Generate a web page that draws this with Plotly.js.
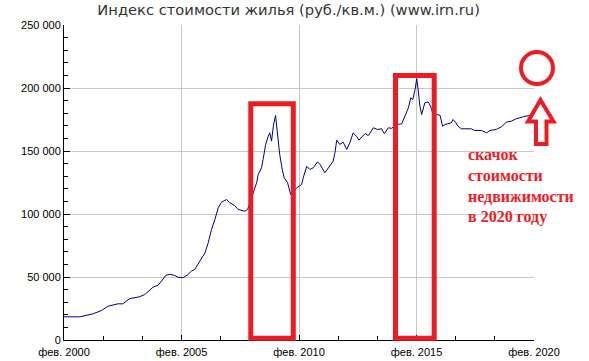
<!DOCTYPE html>
<html>
<head>
<meta charset="utf-8">
<script src="https://cdn.plot.ly/plotly-3.0.1.min.js"></script>
<style>html,body{margin:0;padding:0;background:#fff;}#chart{width:589px;height:361px;}</style>
</head>
<body>
<div id="chart"></div>
<script>
const dates = [
"2000-02-01","2000-10-01","2001-04-28","2001-09-06","2001-12-15","2002-05-19","2002-08-04","2002-11-19",
"2003-04-22","2003-07-10","2003-11-16","2004-02-01","2004-03-25","2004-06-04","2004-08-04","2004-10-19",
"2004-12-10","2005-02-28","2005-05-13","2005-07-04","2005-08-25","2005-11-10","2006-02-01","2006-03-22",
"2006-05-13","2006-07-04","2006-08-25","2006-10-16","2007-01-01","2007-02-22","2007-05-07","2007-07-01",
"2007-10-13","2007-11-25","2008-02-22","2008-04-13","2008-05-07","2008-06-28","2008-07-22","2008-09-01",
"2008-10-10","2008-11-04","2008-12-01","2008-12-28","2009-02-01","2009-03-04","2009-04-07","2009-05-16",
"2009-06-16","2009-08-07","2009-09-25","2009-12-25","2010-03-13","2010-04-07","2010-06-01","2010-07-19",
"2010-09-10","2010-11-16","2010-12-25","2011-03-10","2011-05-28","2011-07-16","2011-08-13","2011-09-10",
"2011-10-28","2011-12-19","2012-02-13","2012-04-01","2012-05-22","2012-07-13","2012-08-19","2012-10-04",
"2012-11-25","2013-01-13","2013-04-01","2013-06-07","2013-08-07","2013-09-19","2013-11-19","2014-01-10",
"2014-04-01","2014-06-16","2014-08-07","2014-09-28","2014-11-04","2014-12-04","2015-01-10","2015-02-04",
"2015-03-01","2015-03-25","2015-04-22","2015-05-16","2015-06-10","2015-08-01","2015-09-07","2015-10-19",
"2015-12-10","2016-02-01","2016-03-13","2016-04-19","2016-07-28","2016-08-22","2016-09-28","2016-11-07",
"2016-12-28","2017-06-01","2017-07-22","2017-11-07","2018-01-25","2018-03-16","2018-06-25","2018-09-13",
"2018-11-28","2019-02-16","2019-05-01","2019-06-25","2019-09-13","2020-01-20"
];
const prices = [
18400,18400,20800,23400,26800,28700,28700,32900,
34300,36100,41900,43500,46700,51400,52200,51200,
49700,49600,52000,54600,56000,62500,69200,77100,
87700,95600,104900,109400,111500,108900,106700,103600,
102200,103600,116800,124800,131300,136700,143300,155200,
161700,164400,157800,169700,178200,164400,147200,135300,
128700,124800,115500,120800,123400,128700,137900,135300,
136700,141400,139300,132700,137900,141900,148600,158600,
155200,157000,151200,156500,164400,161700,158600,161200,
163900,162300,168400,167100,167600,163700,168400,168000,
171000,171600,177600,184300,192200,190900,198800,207500,
197500,185600,179000,182900,188200,189000,185600,179000,
179000,178400,169700,171000,172400,175000,172900,169700,
167600,167600,166300,166300,164400,166300,167100,169200,
172900,173700,175600,176300,177600,178500
];
const xTickVals = ["2000-02-01","2005-02-01","2010-02-01","2015-02-01","2020-02-01"];
const xTickText = ["фев. 2000","фев. 2005","фев. 2010","фев. 2015","фев. 2020"];
const yTickVals = [0,50000,100000,150000,200000,250000];
const noteLines = ["скачок","стоимости","недвижимости","в 2020 году"];
const titleText = "Индекс стоимости жилья (руб./кв.м.) (www.irn.ru)";

const W = 589, H = 361, M = {l:64, r:55, t:25, b:21};
const pw = W - M.l - M.r, ph = H - M.t - M.b;
const px = x => (x - M.l) / pw;
const py = y => 1 - (y - M.t) / ph;
const RED = '#ed1c24';

function rect(x0,y0,x1,y1){
  return {type:'rect', xref:'paper', yref:'paper', x0:px(x0), x1:px(x1), y0:py(y1), y1:py(y0),
    line:{color:RED, width:5}, fillcolor:'rgba(0,0,0,0)', layer:'above'};
}
const arrowPts = [[540.5,100],[553.5,121.5],[546.5,121.5],[546.5,144],[536,144],[536,121.5],[528,121.5]];
const arrowPath = 'M' + arrowPts.map(p => px(p[0]) + ',' + py(p[1])).join(' L') + ' Z';

const trace = {
  x: dates, y: prices, type:'scatter', mode:'lines',
  line:{color:'#000080', width:1}, hoverinfo:'skip'
};

const layout = {
  width: W, height: H,
  margin: M,
  paper_bgcolor:'#fff', plot_bgcolor:'#fff',
  separators: ', ',
  showlegend:false,
  title:{text:titleText, x:0.49, xanchor:'center', y:1-10/H, yanchor:'middle',
    font:{family:'DejaVu Sans, Verdana, sans-serif', size:14.7, color:'#333'}},
  xaxis:{
    type:'date', range:['2000-02-01','2020-02-01'],
    tickmode:'array', tickvals:xTickVals, ticktext:xTickText,
    showgrid:true, gridcolor:'#c8c8c8', gridwidth:1,
    showline:true, linecolor:'#000', linewidth:1,
    ticks:'inside', ticklen:5, tickcolor:'#000', ticklabelstandoff:2,
    minor:{tick0:'2000-02-01', dtick:'M20', ticks:'inside', ticklen:4, tickcolor:'#000', showgrid:false},
    tickfont:{family:'Liberation Sans, Arial, sans-serif', size:11, color:'#000'},
    zeroline:false, fixedrange:true
  },
  yaxis:{
    range:[0,250000],
    tickmode:'array', tickvals:yTickVals, tickformat:',d',
    showgrid:true, gridcolor:'#c8c8c8', gridwidth:1,
    showline:true, linecolor:'#000', linewidth:1,
    ticks:'inside', ticklen:6, tickcolor:'#000',
    minor:{tick0:0, dtick:10000, ticks:'inside', ticklen:4, tickcolor:'#000', showgrid:false},
    tickfont:{family:'Liberation Sans, Arial, sans-serif', size:11, color:'#000'},
    zeroline:false, fixedrange:true
  },
  shapes:[
    rect(250.8,103.8,293.3,338.3),
    rect(395.5,75.5,434.2,338.3),
    {type:'circle', xref:'paper', yref:'paper', x0:px(521), x1:px(553), y0:py(84), y1:py(52),
      line:{color:RED, width:4}, layer:'above'},
    {type:'path', xref:'paper', yref:'paper', path:arrowPath, line:{color:RED, width:4},
      fillcolor:'#fff', layer:'above'}
  ],
  annotations:[{
    xref:'paper', yref:'paper', x:px(466), y:py(185.5), xanchor:'left', yanchor:'middle',
    align:'left', showarrow:false,
    text: noteLines.map(s => '<b>' + s + '</b>').join('<br>'),
    font:{family:'Liberation Serif, Times New Roman, serif', size:16, color:RED}
  }]
};

Plotly.newPlot('chart', [trace], layout, {staticPlot:true, displayModeBar:false});
</script>
</body>
</html>
